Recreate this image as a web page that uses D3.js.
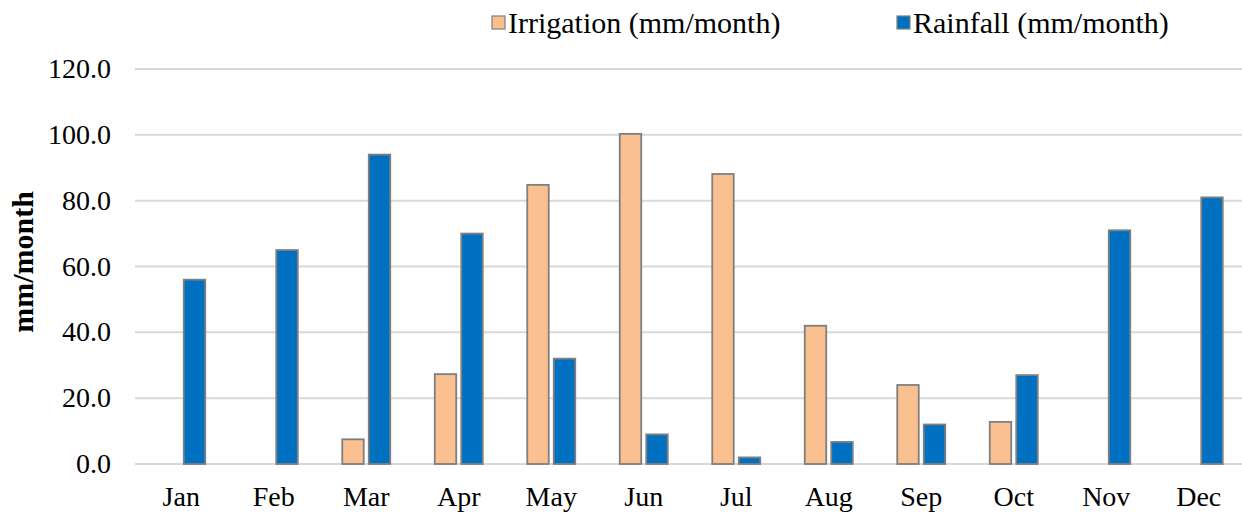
<!DOCTYPE html>
<html>
<head>
<meta charset="utf-8">
<script src="https://cdn.jsdelivr.net/npm/d3@7"></script>
<style>
  body { margin: 0; background: #fff; }
  svg text { font-family: "Liberation Serif", "Times New Roman", Times, serif; fill: #000; }
</style>
</head>
<body>
<div id="chart"></div>
<script>
const months = ["Jan", "Feb", "Mar", "Apr", "May", "Jun", "Jul", "Aug", "Sep", "Oct", "Nov", "Dec"]
const seriesNames = ["Irrigation (mm/month)", "Rainfall (mm/month)"]
const irrigation = [0, 0, 7.5, 27.3, 84.8, 100.3, 88.1, 42.0, 24.0, 12.8, 0, 0]
const rainfall = [56, 65, 94, 70, 32, 9, 2, 6.7, 12, 27, 71, 81]
const yTicks = [0, 20, 40, 60, 80, 100, 120]
const colors = ["#FAC090", "#0070C0"]

const width = 1242
const height = 518
const margin = { top: 69, right: -3, bottom: 54, left: 135 }

const svg = d3.select("#chart").append("svg")
  .attr("width", width)
  .attr("height", height)
  .attr("font-family", "Liberation Serif, serif")

const x0 = d3.scaleBand().domain(months).range([margin.left, width - margin.right])
const x1 = d3.scaleBand().domain(seriesNames).range([0, 48]).paddingInner(0.19)
const y = d3.scaleLinear().domain([0, 120]).range([height - margin.bottom, margin.top])

// gridlines
svg.append("g")
  .selectAll("line")
  .data(yTicks)
  .join("line")
  .attr("x1", margin.left)
  .attr("x2", width)
  .attr("y1", d => y(d))
  .attr("y2", d => y(d))
  .attr("stroke", "#d9d9d9")
  .attr("stroke-width", 2)

// y tick labels
svg.append("g")
  .selectAll("text")
  .data(yTicks)
  .join("text")
  .attr("x", 111)
  .attr("y", d => y(d) + 9)
  .attr("text-anchor", "end")
  .style("font-size", "28px")
  .text(d => d.toFixed(1))

// y axis title
svg.append("text")
  .attr("transform", `translate(33,262) rotate(-90)`)
  .attr("text-anchor", "middle")
  .style("font-size", "30px")
  .style("font-weight", "bold")
  .text("mm/month")

const rows = months.map((m, i) => ({ month: m, values: [irrigation[i], rainfall[i]] }))

const groups = svg.append("g")
  .selectAll("g")
  .data(rows)
  .join("g")
  .attr("transform", d => `translate(${x0(d.month) + x0.bandwidth() / 2 - 24},0)`)

groups.selectAll("rect")
  .data(d => d.values.map((v, j) => ({ name: seriesNames[j], value: v, j })).filter(e => e.value > 0))
  .join("rect")
  .attr("x", d => x1(d.name))
  .attr("width", x1.bandwidth())
  .attr("y", d => y(d.value))
  .attr("height", d => y(0) - y(d.value))
  .attr("fill", d => colors[d.j])
  .attr("stroke", "#7f7f7f")
  .attr("stroke-width", 1.8)

// x labels
svg.append("g")
  .selectAll("text")
  .data(months)
  .join("text")
  .attr("x", d => x0(d) + x0.bandwidth() / 2)
  .attr("y", 506)
  .attr("text-anchor", "middle")
  .style("font-size", "28px")
  .text(d => d)

// legend
const legendX = [492, 897]
const legend = svg.append("g")
  .selectAll("g")
  .data(seriesNames)
  .join("g")
  .attr("transform", (d, i) => `translate(${legendX[i]},16)`)

legend.append("rect")
  .attr("width", 13)
  .attr("height", 13)
  .attr("fill", (d, i) => colors[i])
  .attr("stroke", "#7f7f7f")
  .attr("stroke-width", 1.2)

legend.append("text")
  .attr("x", 16)
  .attr("y", 17)
  .style("font-size", "30px")
  .text(d => d)
</script>
</body>
</html>
